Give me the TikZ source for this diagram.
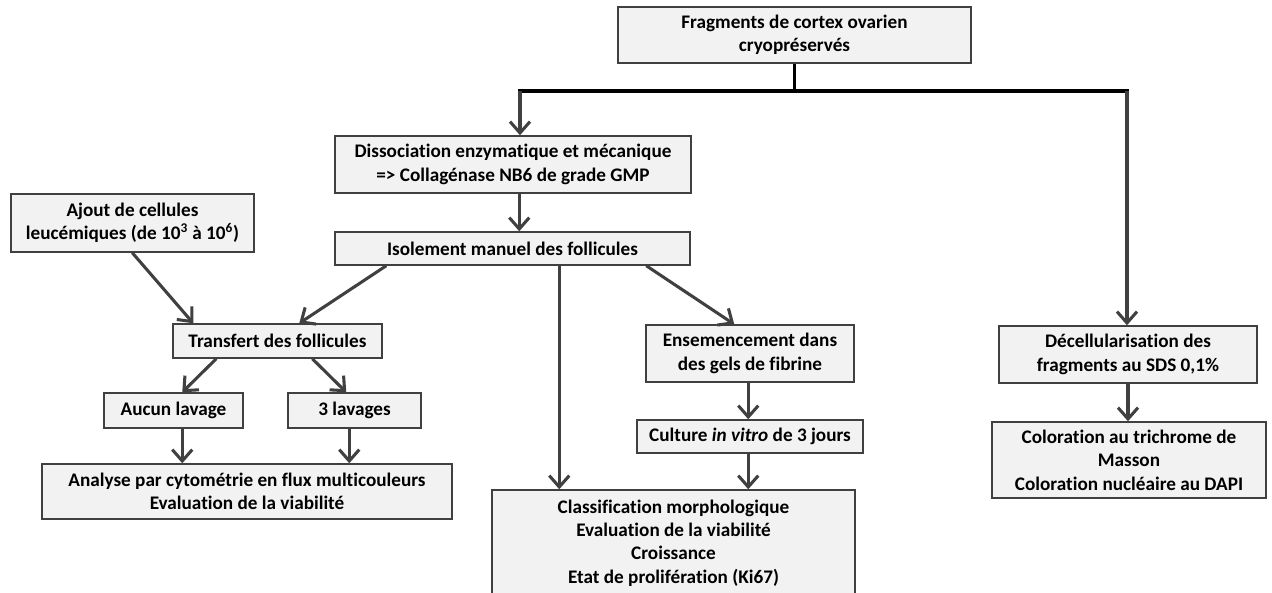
\documentclass[tikz,border=0pt]{standalone}
\usepackage{fontspec}
\setmainfont{Carlito}[Ligatures=NoCommon]
\usetikzlibrary{arrows.meta,calc}
\definecolor{boxfill}{HTML}{F2F2F2}
\definecolor{boxdraw}{HTML}{404040}
\definecolor{arrowcol}{HTML}{404040}
\tikzset{
  box/.style={draw=boxdraw, line width=1.1pt, fill=boxfill, inner sep=0pt, align=center,
    font=\fontsize{14.4}{17.5}\selectfont\bfseries, anchor=center},
  arr/.style={draw=arrowcol, line width=2.3pt, -{Straight Barb[length=8.5pt,width=15pt,line width=2.3pt]}},
  trunk/.style={draw=black, line width=2.6pt},
}
\begin{document}
\begin{tikzpicture}[x=0.75pt,y=-0.75pt]
\useasboundingbox (0,0) rectangle (1272,593);
\clip (0,0) rectangle (1272,593);
% boxes
\node[box, minimum width=353*0.75pt, minimum height=56*0.75pt] (top) at (794.5,35) {Fragments de cortex ovarien\\cryopréservés};
\node[box, minimum width=356*0.75pt, minimum height=57*0.75pt] (dis) at (513,164.5) {Dissociation enzymatique et mécanique\\=> Collagénase NB6 de grade GMP};
\node[box, minimum width=355*0.75pt, minimum height=33*0.75pt] (iso) at (512.5,248.5) {Isolement manuel des follicules};
\node[box, minimum width=243*0.75pt, minimum height=58*0.75pt] (ajout) at (132.5,223) {Ajout de cellules\\leucémiques (de 10\textsuperscript{3} à 10\textsuperscript{6})};
\node[box, minimum width=209*0.75pt, minimum height=34*0.75pt] (trans) at (277.5,341) {Transfert des follicules};
\node[box, minimum width=139*0.75pt, minimum height=35*0.75pt] (aucun) at (173.5,410.5) {Aucun lavage};
\node[box, minimum width=133*0.75pt, minimum height=35*0.75pt] (trois) at (354.5,410.5) {3 lavages};
\node[box, minimum width=410*0.75pt, minimum height=55*0.75pt] (ana) at (247,491.5) {Analyse par cytométrie en flux multicouleurs\\Evaluation de la viabilité};
\node[box, minimum width=208*0.75pt, minimum height=57*0.75pt] (ens) at (750,353.5) {Ensemencement dans\\des gels de fibrine};
\node[box, minimum width=226*0.75pt, minimum height=33*0.75pt] (cult) at (750,436.5) {Culture \textit{in vitro} de 3 jours};
\node[box, minimum width=363*0.75pt, minimum height=106*0.75pt] (cla) at (673.5,543) {Classification morphologique\\Evaluation de la viabilité\\Croissance\\Etat de prolifération (Ki67)};
\node[box, minimum width=258*0.75pt, minimum height=57*0.75pt] (dec) at (1128,354.5) {Décellularisation des\\fragments au SDS 0,1\%};
\node[box, minimum width=274*0.75pt, minimum height=76*0.75pt] (col) at (1129,460) {Coloration au trichrome de\\Masson\\Coloration nucléaire au DAPI};
% trunk
\coordinate (hl) at (520,91);
\coordinate (hr) at (1127,91);
\draw[trunk] (top.south) -- (top.south |- hl);
\draw[trunk, line cap=rect] (hl) -- (hr);
\draw[arr] (hl) -- (hl |- dis.north);
\draw[arr] (hr) -- (hr |- dec.north);
% arrows
\draw[arr] ($(dis.south west)+(185,0)$) -- ($(iso.north west)+(185,0)$);
\draw[arr] ($(ajout.south west)+(122,0)$) -- ($(trans.north west)+(21,0)$);
\draw[arr] ($(iso.south west)+(52,0)$) -- ($(trans.north west)+(127,0)$);
\draw[arr] ($(trans.south west)+(44,0)$) -- ($(aucun.north west)+(79,0)$);
\draw[arr] ($(trans.south west)+(140,0)$) -- ($(trois.north west)+(59,0)$);
\draw[arr] ($(aucun.south west)+(79,0)$) -- ($(ana.north west)+(141,0)$);
\draw[arr] ($(trois.south west)+(62,0)$) -- ($(ana.north west)+(308,0)$);
\draw[arr] ($(iso.south west)+(225,0)$) -- ($(cla.north west)+(68,0)$);
\draw[arr] ($(iso.south west)+(312,0)$) -- ($(ens.north west)+(89,0)$);
\draw[arr] ($(ens.south west)+(103,0)$) -- ($(cult.north west)+(112,0)$);
\draw[arr] ($(cult.south west)+(112,0)$) -- ($(cla.north west)+(257,0)$);
\draw[arr] (dec.south) -- (dec.south |- col.north);
\end{tikzpicture}
\end{document}
